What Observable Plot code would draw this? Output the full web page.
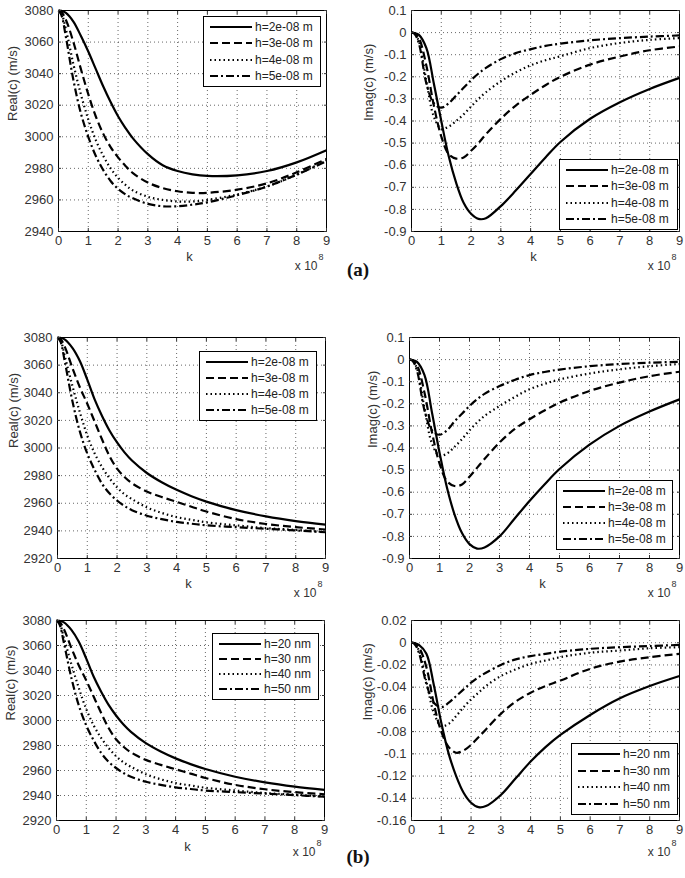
<!DOCTYPE html>
<html><head><meta charset="utf-8">
<script src="https://cdn.jsdelivr.net/npm/d3@7"></script>
<script src="https://cdn.jsdelivr.net/npm/@observablehq/plot@0.6"></script>
<style>
body{margin:0;background:#fff}
#fig{position:relative;width:685px;height:878px;overflow:hidden;font-family:"Liberation Sans",Arial,sans-serif;color:#333;background:#fff}
.panel{position:absolute}
.legend{position:absolute;background:#fff;border:1px solid #000;box-sizing:border-box;font-size:12px;color:#222;padding-top:2px}
.row{display:flex;align-items:center;white-space:nowrap}
.row svg{flex:none;margin-right:3px}
.tag{position:absolute;font-family:"Liberation Serif","Times New Roman",serif;font-weight:bold;font-size:19px;color:#111;transform:translate(-50%,-50%)}
</style></head>
<body><div id="fig"></div>
<script>
// wavenumber k (units of 1e8)
const K = [0, 0.1, 0.25, 0.5, 0.75, 1, 1.25, 1.5, 1.75, 2, 2.25, 2.5, 3, 3.5, 4, 4.5, 5, 6, 7, 8, 9];
const xTicks = [0,1,2,3,4,5,6,7,8,9];

// (a) Real(c)
const realA_h2 = [3080, 3079.8, 3078.5, 3073, 3064, 3054, 3043, 3032, 3022, 3013, 3005.5, 2999, 2989, 2982, 2978.3, 2976.2, 2975.2, 2975.6, 2978.3, 2983.8, 2991.5];
const realA_h3 = [3080, 3079, 3074, 3060, 3043, 3027, 3013, 3002, 2993.5, 2987, 2981.5, 2977, 2971, 2967.5, 2965.5, 2964.5, 2964.5, 2966.5, 2970.5, 2977.5, 2986];
const realA_h4 = [3080, 3078, 3068, 3046, 3027, 3011, 2998, 2988, 2980, 2974, 2969.5, 2966, 2962, 2960, 2959, 2959, 2960, 2963.5, 2968.5, 2976, 2985];
const realA_h5 = [3080, 3077, 3063, 3036, 3015, 3000, 2988, 2979, 2972, 2967, 2963.5, 2961, 2957.5, 2956, 2956, 2957, 2958.5, 2963, 2968.5, 2976, 2984.5];
// (a) Imag(c)
const imagA_h2 = [0, -0.002, -0.01, -0.07, -0.23, -0.40, -0.56, -0.68, -0.77, -0.82, -0.843, -0.84, -0.785, -0.715, -0.64, -0.565, -0.495, -0.39, -0.315, -0.255, -0.205];
const imagA_h3 = [0, -0.003, -0.025, -0.15, -0.33, -0.47, -0.55, -0.57, -0.565, -0.535, -0.5, -0.46, -0.39, -0.33, -0.282, -0.238, -0.2, -0.145, -0.108, -0.08, -0.063];
const imagA_h4 = [0, -0.004, -0.04, -0.22, -0.38, -0.435, -0.425, -0.40, -0.37, -0.335, -0.30, -0.27, -0.22, -0.18, -0.148, -0.125, -0.107, -0.07, -0.047, -0.033, -0.025];
const imagA_h5 = [0, -0.005, -0.05, -0.23, -0.32, -0.34, -0.32, -0.285, -0.25, -0.215, -0.185, -0.16, -0.12, -0.093, -0.075, -0.06, -0.05, -0.035, -0.025, -0.018, -0.013];
// (b) Real(c)
const realB_h2 = [3080, 3079.7, 3078.5, 3072.5, 3063, 3049.5, 3035, 3023, 3012.5, 3004, 2996.8, 2990.9, 2981.9, 2975.2, 2969.7, 2965.1, 2961.2, 2955, 2950.5, 2947.1, 2944.5];
const realB_h3 = [3080, 3079, 3073, 3058, 3044, 3032, 3019, 3006, 2994, 2985, 2979, 2974.5, 2968.5, 2964.5, 2961, 2957.5, 2954, 2948.5, 2945, 2942.7, 2941];
const realB_h4 = [3080, 3078, 3066, 3045, 3026, 3009, 2996, 2986, 2978, 2971.5, 2966.5, 2963, 2957, 2953, 2950, 2948, 2946.2, 2944, 2942, 2940.7, 2939.2];
const realB_h5 = [3080, 3077, 3062, 3034, 3012, 2996, 2984, 2974, 2967, 2962, 2958, 2955, 2951, 2948.5, 2946.5, 2945.2, 2944, 2942.7, 2941.5, 2940.3, 2939];
// (b) Imag(c)
const imagB_h2 = [0, -0.002, -0.01, -0.07, -0.24, -0.42, -0.58, -0.70, -0.785, -0.835, -0.855, -0.85, -0.80, -0.72, -0.64, -0.565, -0.495, -0.385, -0.30, -0.235, -0.18];
const imagB_h3 = [0, -0.003, -0.025, -0.15, -0.33, -0.47, -0.55, -0.572, -0.565, -0.53, -0.49, -0.45, -0.375, -0.315, -0.27, -0.23, -0.195, -0.142, -0.104, -0.075, -0.055];
const imagB_h4 = [0, -0.004, -0.04, -0.22, -0.38, -0.435, -0.425, -0.395, -0.36, -0.32, -0.285, -0.255, -0.21, -0.17, -0.134, -0.11, -0.09, -0.063, -0.044, -0.03, -0.02];
const imagB_h5 = [0, -0.005, -0.05, -0.23, -0.32, -0.34, -0.32, -0.28, -0.245, -0.21, -0.18, -0.155, -0.12, -0.092, -0.07, -0.056, -0.045, -0.03, -0.02, -0.014, -0.01];
// (b) Imag(c), nm legend
const imagN_h20 = [0, -0.0003, -0.002, -0.01, -0.038, -0.072, -0.1, -0.12, -0.135, -0.144, -0.148, -0.147, -0.137, -0.122, -0.107, -0.094, -0.083, -0.065, -0.05, -0.039, -0.03];
const imagN_h30 = [0, -0.0005, -0.004, -0.022, -0.055, -0.08, -0.094, -0.099, -0.097, -0.092, -0.085, -0.078, -0.064, -0.053, -0.045, -0.039, -0.034, -0.0235, -0.017, -0.013, -0.01];
const imagN_h40 = [0, -0.0008, -0.007, -0.035, -0.063, -0.075, -0.073, -0.066, -0.058, -0.051, -0.045, -0.039, -0.03, -0.024, -0.019, -0.016, -0.013, -0.009, -0.007, -0.005, -0.004];
const imagN_h50 = [0, -0.001, -0.009, -0.037, -0.054, -0.058, -0.054, -0.048, -0.042, -0.036, -0.031, -0.027, -0.02, -0.015, -0.012, -0.01, -0.008, -0.0055, -0.004, -0.003, -0.002];

const namesE = ["h=2e-08 m", "h=3e-08 m", "h=4e-08 m", "h=5e-08 m"];
const namesN = ["h=20 nm", "h=30 nm", "h=40 nm", "h=50 nm"];
const yTicksRealA = [2940,2960,2980,3000,3020,3040,3060,3080];
const yTicksReal = [2920,2940,2960,2980,3000,3020,3040,3060,3080];
const yTicksImag = [-0.9,-0.8,-0.7,-0.6,-0.5,-0.4,-0.3,-0.2,-0.1,0,0.1];
const yTicksImagN = [-0.16,-0.14,-0.12,-0.1,-0.08,-0.06,-0.04,-0.02,0,0.02];

const dashes = [null, "8,4", "1.5,3", "8,3,2,3"];
const fmt = d => String(+d.toFixed(4));

const panels = [
  {sx:0, sy:0, W:340, H:285, f:[58,10,326,231], yTicks:yTicksRealA, series:[realA_h2,realA_h3,realA_h4,realA_h5], names:namesE,
   ylabel:"Real(c) (m/s)", yDx:-46, kDx:-3, kDy:29, expDy:38, leg:[203,16,118,71]},
  {sx:340, sy:0, W:345, H:285, f:[411,10,679,231], yTicks:yTicksImag, series:[imagA_h2,imagA_h3,imagA_h4,imagA_h5], names:namesE,
   ylabel:"Imag(c) (m/s)", yDx:-43, kDx:-12, kDy:29, expDy:38, leg:[559,159,119,71]},
  {sx:0, sy:300, W:340, H:305, f:[57,337,325,558], yTicks:yTicksReal, series:[realB_h2,realB_h3,realB_h4,realB_h5], names:namesE,
   ylabel:"Real(c) (m/s)", yDx:-44, kDx:-3, kDy:29, expDy:38, leg:[199,351,118,70]},
  {sx:340, sy:300, W:345, H:305, f:[409,337,679,558], yTicks:yTicksImag, series:[imagB_h2,imagB_h3,imagB_h4,imagB_h5], names:namesE,
   ylabel:"Imag(c) (m/s)", yDx:-37, kDx:-2, kDy:29, expDy:38, leg:[556,480,117,70]},
  {sx:0, sy:605, W:340, H:273, f:[56,620,324,820], yTicks:yTicksReal, series:[realB_h2,realB_h3,realB_h4,realB_h5], names:namesN,
   ylabel:"Real(c) (m/s)", yDx:-46, kDx:-3, kDy:30, expDy:35, leg:[212,633,107,67]},
  {sx:340, sy:605, W:345, H:273, f:[411,620,679,820], yTicks:yTicksImagN, series:[imagN_h20,imagN_h30,imagN_h40,imagN_h50], names:namesN,
   ylabel:"Imag(c) (m/s)", yDx:-44, kDx:0, kDy:null, expDy:35, leg:[571,743,107,72]}
];

const fig = document.getElementById("fig");
const none = () => "";

for (const p of panels) {
  const [L,T,R,B] = p.f;
  const yDomain = [p.yTicks[0], p.yTicks[p.yTicks.length-1]];
  const marks = [
    Plot.gridX(xTicks, {stroke:"#000", strokeOpacity:0.6, strokeDasharray:"1,3", strokeWidth:1}),
    Plot.gridY(p.yTicks, {stroke:"#000", strokeOpacity:0.6, strokeDasharray:"1,3", strokeWidth:1}),
    ...p.series.map((vals, i) => Plot.line(K.map((k, j) => ({k, v: vals[j]})), {
      x:"k", y:"v", curve:"catmull-rom", stroke:"#000", strokeWidth:2.2,
      strokeDasharray: dashes[i] || undefined, strokeLinecap:"butt", strokeLinejoin:"round"
    })),
    Plot.frame({stroke:"#000", strokeWidth:1}),
    // inward ticks on all four sides (MATLAB box style)
    Plot.axisX(xTicks, {anchor:"bottom", tickSize:3, dy:-3, tickFormat:none, label:null}),
    Plot.axisX(xTicks, {anchor:"top", tickSize:3, dy:3, tickFormat:none, label:null}),
    Plot.axisY(p.yTicks, {anchor:"left", tickSize:3, dx:3, tickFormat:none, label:null}),
    Plot.axisY(p.yTicks, {anchor:"right", tickSize:3, dx:-3, tickFormat:none, label:null}),
    // tick labels
    Plot.axisX(xTicks, {anchor:"bottom", tickSize:0, tickPadding:4, label:null, tickFormat:fmt}),
    Plot.axisY(p.yTicks, {anchor:"left", tickSize:0, tickPadding:5, label:null, tickFormat:fmt}),
    Plot.text([p.ylabel], {frameAnchor:"left", dx:p.yDx, rotate:-90, text:d=>d, fontSize:13}),
    Plot.text(["x 10"], {frameAnchor:"bottom-right", dx:-9, dy:p.expDy, textAnchor:"end", text:d=>d, fontSize:12}),
    Plot.text(["8"], {frameAnchor:"bottom-right", dx:-8, dy:p.expDy-10, textAnchor:"start", text:d=>d, fontSize:9})
  ];
  if (p.kDy != null) marks.push(Plot.text(["k"], {frameAnchor:"bottom", dx:p.kDx, dy:p.kDy, text:d=>d, fontSize:13}));
  const svg = Plot.plot({
    width:p.W, height:p.H,
    marginLeft:L-p.sx, marginRight:p.sx+p.W-R, marginTop:T-p.sy, marginBottom:p.sy+p.H-B,
    x:{domain:[0,9]}, y:{domain:yDomain},
    style:{fontFamily:'"Liberation Sans", Arial, sans-serif', fontSize:"13px", color:"#333", background:"transparent", overflow:"visible"},
    marks
  });
  const wrap = document.createElement("div");
  wrap.className = "panel";
  wrap.style.left = p.sx + "px"; wrap.style.top = p.sy + "px";
  wrap.appendChild(svg);
  fig.appendChild(wrap);

  // legend box
  const [lx, ly, lw, lh] = p.leg;
  const leg = document.createElement("div");
  leg.className = "legend";
  Object.assign(leg.style, {left:lx+"px", top:ly+"px", width:lw+"px", height:lh+"px"});
  const rh = (lh - 6) / 4;
  p.names.forEach((name, i) => {
    const row = document.createElement("div");
    row.className = "row";
    row.style.height = rh + "px";
    row.style.paddingLeft = "6px";
    const dash = dashes[i] ? ` stroke-dasharray="${dashes[i]}"` : "";
    row.innerHTML = `<svg width="42" height="6"><line x1="0" y1="3" x2="42" y2="3" stroke="#000" stroke-width="2.2"${dash}/></svg><span>${name}</span>`;
    leg.appendChild(row);
  });
  fig.appendChild(leg);
}

for (const [t, x, y] of [["(a)", 358, 270], ["(b)", 358, 857]]) {
  const d = document.createElement("div");
  d.className = "tag"; d.textContent = t;
  d.style.left = x + "px"; d.style.top = y + "px";
  fig.appendChild(d);
}
</script>
</body></html>
